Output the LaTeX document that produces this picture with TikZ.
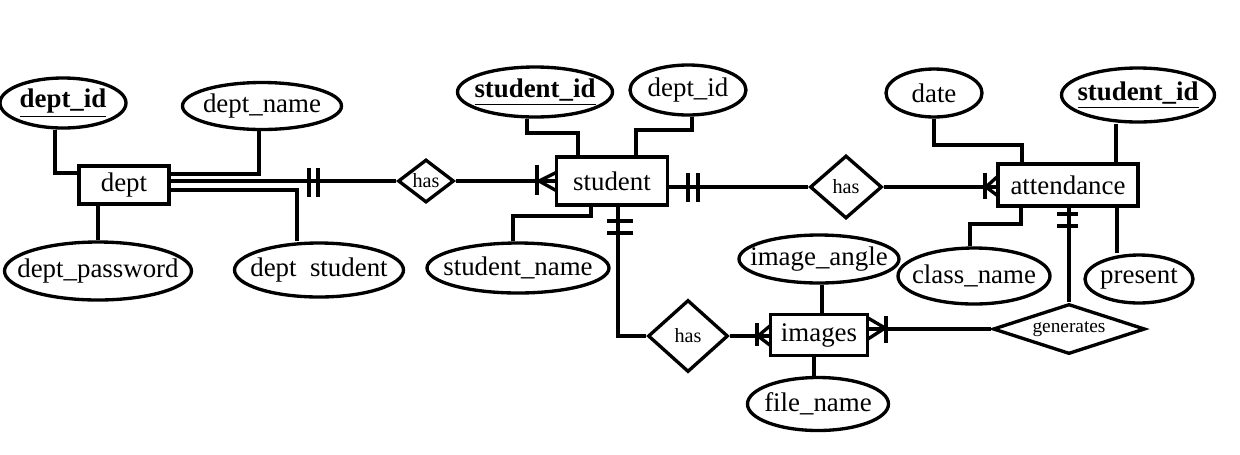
\documentclass[tikz,border=0pt]{standalone}
\usepackage{fontspec}
\setmainfont{Liberation Serif}
\usetikzlibrary{shapes.geometric}

\tikzset{
  er/.style={draw, line width=1.9pt, inner sep=0pt, font=\fontsize{15.3}{18}\selectfont},
  entity/.style={er, rectangle},
  attr/.style={er, ellipse},
  rel/.style={er, diamond, font=\fontsize{11.5}{13}\selectfont},
  wh/.style 2 args={minimum width=#1*0.02cm, minimum height=#2*0.02cm},
  link/.style={line width=1.9pt},
}
\newcommand{\pk}[1]{\underline{\textbf{#1}}}
% keep the shape size fixed by the given width/height
\newcommand{\lbl}[1]{\makebox[0pt]{#1}}

\begin{document}
\begin{tikzpicture}[x=0.02cm, y=-0.02cm]
\useasboundingbox (0,0) rectangle (1240,454);

% Entities
\node[entity, wh={90}{38}]  (dept)    at (124,185) {dept};
\node[entity, wh={111}{48}] (student) at (612,181) {student};
\node[entity, wh={140}{42}] (att)     at (1068,185) {attendance};
\node[entity, wh={97}{41}]  (images)  at (819,335) {images};

% Relationships
\node[rel, wh={56}{43}]  (has1) at (426,181) {\lbl{has}};
\node[rel, wh={72}{63}]  (has2) at (846,187) {\lbl{has}};
\node[rel, wh={80}{72}]  (has3) at (688,336) {\lbl{has}};
\node[rel, wh={152}{50}, font=\fontsize{11}{13}\selectfont] (gen) at (1069,329) {\lbl{generates}};

% Attributes of dept
\node[attr, wh={126}{50}] (deptid)   at (63,103)  {\lbl{\pk{dept\_id}}};
\node[attr, wh={159}{47}] (deptname) at (262,106) {\lbl{dept\_name}};
\node[attr, wh={187}{58}] (deptpw)   at (98,271)  {\lbl{dept\_password}};
\node[attr, wh={169}{54}] (deptst)   at (319,270) {\lbl{dept\ \ student}};

% Attributes of student
\node[attr, wh={155}{50}] (stid)   at (535,92)  {\lbl{\pk{student\_id}}};
\node[attr, wh={116}{50}] (stdept) at (688,90)  {\lbl{dept\_id}};
\node[attr, wh={182}{50}] (stname) at (518,268) {\lbl{student\_name}};

% Attributes of attendance
\node[attr, wh={96}{48}]  (date)      at (934,93)   {\lbl{date}};
\node[attr, wh={153}{54}] (attid)     at (1138,95)  {\lbl{\pk{student\_id}}};
\node[attr, wh={152}{56}] (classname) at (974,276)  {\lbl{class\_name}};
\node[attr, wh={108}{48}] (present)   at (1139,279) {\lbl{present}};

% Attributes of images
\node[attr, wh={160}{48}] (angle)    at (819,259) {\lbl{image\_angle}};
\node[attr, wh={141}{53}] (filename) at (818,404) {\lbl{file\_name}};

% Attribute links
\draw[link] (deptid.south -| 55,0) |- (dept.west |- 0,173);
\draw[link] (deptname.south -| 259,0) |- (dept.east |- 0,174);
\draw[link] (dept.east |- 0,190) -| (deptst.north -| 297,0);
\draw[link] (dept.south -| deptpw.north) -- (deptpw.north);
\draw[link] (stid.south -| 527,0) |- (578,133) -- (student.north -| 578,0);
\draw[link] (stdept.south -| 692,0) |- (636,130) -- (student.north -| 636,0);
\draw[link] (student.south -| 591,0) |- (513,216) -- (stname.north -| 513,0);
\draw[link] (date.south) |- (1022,145) -- (att.north -| 1022,0);
\draw[link] (attid.south -| 1116,0) -- (att.north -| 1116,0);
\draw[link] (att.south -| 1021,0) |- (970,224) -- (classname.north -| 970,0);
\draw[link] (att.south -| 1117,0) -- (present.north -| 1117,0);
\draw[link] (angle.south -| 822,0) -- (images.north -| 822,0);
\draw[link] (images.south -| 814,0) -- (filename.north -| 814,0);

% Relationship links
\draw[link] (dept.east |- has1.west) -- (has1.west);
\draw[link] (has1.east) -- (student.west);
\draw[link] (student.east |- 0,187) -- (has2.west);
\draw[link] (has2.east) -- (att.west |- has2.east);
\draw[link] (student.south -| 618,0) |- (has3.west);
\draw[link] (has3.east) -- (images.west |- has3.east);
\draw[link] (images.east |- gen.west) -- (gen.west);
\draw[link] (att.south -| gen.north) -- (gen.north);

% Cardinality marks: one
\foreach \x in {309,318} \draw[link] (\x,168) -- (\x,197);
\foreach \x in {688,698} \draw[link] (\x,173) -- (\x,202);
\foreach \y in {221,233} \draw[link] (607,\y) -- (633,\y);
\foreach \y in {214,226} \draw[link] (1057,\y) -- (1078,\y);

% Cardinality marks: many
\draw[link] (537,165) -- (537,195);
\draw[link] (557,172) -- (539,181) -- (557,191);
\draw[link] (985,173) -- (985,199);
\draw[link] (998,176) -- (986,187) -- (998,196);
\draw[link] (757,323) -- (757,346);
\draw[link] (771,325) -- (758,336) -- (771,346);
\draw[link] (886,316) -- (886,343);
\draw[link] (868,318) -- (885,328) -- (868,339);
\end{tikzpicture}
\end{document}
